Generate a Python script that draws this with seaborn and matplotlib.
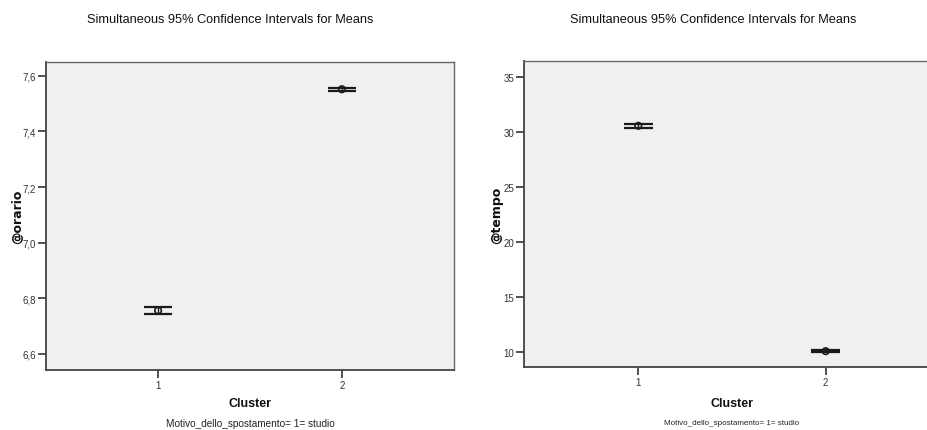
import matplotlib
matplotlib.use("Agg")
import matplotlib.pyplot as plt
import seaborn as sns
import pandas as pd
from matplotlib import font_manager

clusters = [1, 2]
orario_mean = [6.756, 7.552]
orario_lo = [6.745, 7.547]
orario_hi = [6.767, 7.557]
tempo_mean = [30.56, 10.08]
tempo_lo = [30.40, 10.02]
tempo_hi = [30.73, 10.14]
orario_ticks = [6.6, 6.8, 7.0, 7.2, 7.4, 7.6]
tempo_ticks = [10, 15, 20, 25, 30, 35]

title_text = "Simultaneous 95% Confidence Intervals for Means"
subtitle_text = "Motivo_dello_spostamento= 1= studio"

sns.set_theme(style="white")
names = {f.name for f in font_manager.fontManager.ttflist}
fam = ["Liberation Sans Narrow"] if "Liberation Sans Narrow" in names else []
plt.rcParams["font.family"] = fam + ["Liberation Sans", "DejaVu Sans"]

fig = plt.figure(figsize=(9.27, 4.31), dpi=100)

def panel(rect, means, lo, hi, ticks, ylim, ylabel, fmt, title_x, ylabel_x, sub_size):
    ax = fig.add_axes(rect)
    ax.set_facecolor("#f0f0f0")
    df = pd.DataFrame({"Cluster": clusters, "mean": means, "lo": lo, "hi": hi})
    half = 0.078
    for _, r in df.iterrows():
        ax.hlines([r["lo"], r["hi"]], r["Cluster"] - half, r["Cluster"] + half,
                  colors="#1a1a1a", linewidth=1.6, zorder=3)
        ax.vlines(r["Cluster"], r["lo"], r["hi"], colors="#1a1a1a", linewidth=1.0, zorder=3)
    sns.scatterplot(data=df, x="Cluster", y="mean", ax=ax, marker="o", s=22,
                    facecolor="none", edgecolor="#1a1a1a", linewidth=1.2, zorder=4)
    ax.set_xlim(0.39, 2.61)
    ax.set_ylim(*ylim)
    ax.set_xticks(clusters)
    ax.set_xticklabels([str(c) for c in clusters])
    ax.set_yticks(ticks)
    ax.set_yticklabels([fmt(t) for t in ticks])
    ax.tick_params(axis="both", direction="out", length=6, width=1.2, color="#333333",
                   labelsize=7, labelcolor="#333333", pad=1, left=True, bottom=True)
    ax.set_xlabel("")
    ax.set_ylabel("")
    for s in ["left", "bottom"]:
        ax.spines[s].set_color("#444444")
        ax.spines[s].set_linewidth(1.3)
    for s in ["top", "right"]:
        ax.spines[s].set_color("#666666")
        ax.spines[s].set_linewidth(1.0)
    l, b, w, h = rect
    fig.text(title_x, 1 - 20 / 431, title_text, ha="center", va="center", fontsize=9.2,
             color="#111111")
    fig.text(ylabel_x, b + h / 2, ylabel, rotation=90, ha="center", va="center",
             fontsize=9, fontweight="bold", color="#111111",
             fontfamily="DejaVu Sans")
    cx = l + (1.5 - 0.39) / (2.61 - 0.39) * w
    fig.text(cx, 1 - 404 / 431, "Cluster", ha="center", va="center", fontsize=9,
             fontweight="bold", color="#111111")
    fig.text(cx, 1 - 424 / 431, subtitle_text, ha="center", va="center", fontsize=sub_size,
             color="#222222")
    return ax

panel([46 / 927, 1 - 371 / 431, 408 / 927, 308 / 431], orario_mean, orario_lo, orario_hi,
      orario_ticks, (6.542, 7.650), "@orario", lambda t: f"{t:.1f}".replace(".", ","),
      230 / 927, 18 / 927, 7.2)
panel([524 / 927, 1 - 368 / 431, 416 / 927, 306 / 431], tempo_mean, tempo_lo, tempo_hi,
      tempo_ticks, (8.64, 36.45), "@tempo", lambda t: f"{t:d}",
      713 / 927, 497 / 927, 5.8)

fig.savefig("out.png", dpi=100)
